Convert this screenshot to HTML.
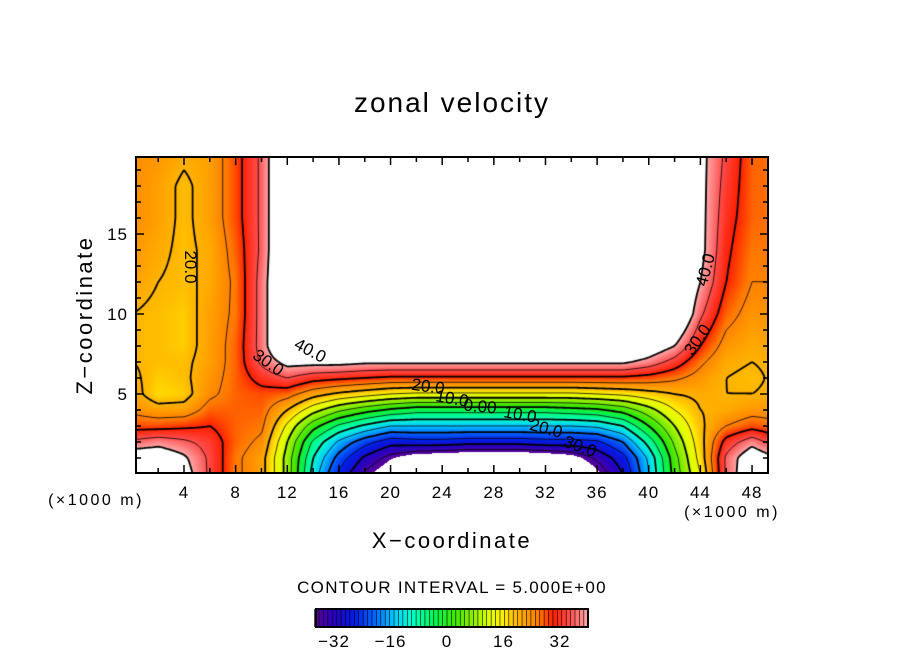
<!DOCTYPE html>
<html><head><meta charset="utf-8">
<style>
html,body{margin:0;padding:0;background:#fff;}
#wrap{position:relative;width:904px;height:654px;overflow:hidden;font-family:"Liberation Sans",sans-serif;}
canvas{position:absolute;left:136px;top:157px;}
svg{position:absolute;left:0;top:0;}
</style></head>
<body>
<div id="wrap">
<canvas id="cv" width="632" height="316"></canvas>
<svg id="sv" width="904" height="654"></svg>
</div>
<script>
// x positions (×1000 m) of grid columns
const gridX = [0,2,4,6,8,10,12,14,16,18,20,22,24,26,28,30,32,34,36,38,40,42,44,46,48,50];
// z positions (×1000 m) of grid rows
const gridZ = [0,1,2,3,4,5,6,7,8,10,12,14,16,18,20];
// column profiles (value at each gridZ)
const colU = [
 [46,45,36,28,24,22,21,20,20,20,22,23,24,24,24],
 [46,45,38,28,22,17,18,19,19,19,20,21,22,22,23],
 [43,41,36,29,22,18,19,19,18,18,19,19,19,19,21],
 [34,34,33,30,27,24,23,22,22,22,21,21,22,22,22],
 [26,26,27,27,27,27,27,27,27,26,26,27,28,28,28],
 [22,22,24,26,27,28,32,36,37,37,37,36,36,36,36],
 [8,8,10,14,20,27,35,42,50,50,50,50,50,50,50],
 [-12,-10,-6,2,12,22,32,42,50,50,50,50,50,50,50],
 [-26,-22,-16,-6,6,19,31,42,50,50,50,50,50,50,50],
 [-36,-31,-23,-11,2,17,30,41,50,50,50,50,50,50,50],
 [-42,-37,-28,-15,-1,15,29,41,50,50,50,50,50,50,50],
 [-48,-41,-27,-15,-3,14,29,41,50,50,50,50,50,50,50],
 [-48,-42,-27,-15,-3,14,29,41,50,50,50,50,50,50,50],
 [-48,-43,-28,-15,-3,14,29,41,50,50,50,50,50,50,50],
 [-48,-43,-28,-15,-3,14,29,41,50,50,50,50,50,50,50],
 [-48,-43,-28,-15,-3,14,29,41,50,50,50,50,50,50,50],
 [-48,-42,-27,-15,-3,14,29,41,50,50,50,50,50,50,50],
 [-46,-40,-27,-15,-2,14,29,41,50,50,50,50,50,50,50],
 [-39,-34,-26,-14,-1,15,29,41,50,50,50,50,50,50,50],
 [-30,-27,-20,-10,2,16,29,41,50,50,50,50,50,50,50],
 [-15,-14,-8,0,8,18,28,38,45,50,50,50,50,50,50],
 [2,3,6,10,15,20,26,33,40,50,50,50,50,50,50],
 [15,17,18,19,20,21,23,26,30,36,40,42,42,42,42],
 [36,36,32,25,21,20,20,21,23,27,30,31,32,33,34],
 [46,45,38,28,23,20,19,20,21,23,25,26,27,27,27],
 [42,40,32,26,23,21,21,21,22,24,25,26,26,26,26]
];
const xTicks = [4,8,12,16,20,24,28,32,36,40,44,48];
const zTicks = [5,10,15];
const cbTicks = [-32,-16,0,16,32];
const contourLevels = [-35,-30,-25,-20,-15,-10,-5,0,5,10,15,20,25,30,35,40];
const fillMin = -37.5, fillMax = 40;

const PL=136, PT=157, PW=632, PH=316;
const xPx = x => 184 + (x-4)*12.91;
const zPx = z => 474 - z*16;
const pxX = p => 4 + (p-184)/12.91;
const pxZ = p => (474-p)/16;

function field(x,z){
  x=Math.max(gridX[0],Math.min(gridX[gridX.length-1],x));
  z=Math.max(gridZ[0],Math.min(gridZ[gridZ.length-1],z));
  let i=0; while(i<gridX.length-2 && x>gridX[i+1]) i++;
  let j=0; while(j<gridZ.length-2 && z>gridZ[j+1]) j++;
  const tx=(x-gridX[i])/(gridX[i+1]-gridX[i]);
  const tz=(z-gridZ[j])/(gridZ[j+1]-gridZ[j]);
  const a=colU[i][j],b=colU[i+1][j],c=colU[i][j+1],d=colU[i+1][j+1];
  return a*(1-tx)*(1-tz)+b*tx*(1-tz)+c*(1-tx)*tz+d*tx*tz;
}
const stops=[[-37.5,[90,0,150]],[-32,[40,0,190]],[-26,[0,30,230]],[-20,[0,110,255]],[-15,[0,200,255]],[-10,[0,255,200]],[-4,[0,245,90]],[2,[60,230,0]],[8,[150,240,0]],[12,[225,255,0]],[16,[255,235,0]],[19,[255,190,0]],[22,[255,160,0]],[26,[255,120,0]],[30,[255,30,0]],[35,[255,80,80]],[40,[255,170,170]]];
function color(v){
  if(v<fillMin||v>fillMax) return [255,255,255];
  for(let k=0;k<stops.length-1;k++){
    if(v<=stops[k+1][0]){const t=(v-stops[k][0])/(stops[k+1][0]-stops[k][0]);
      return stops[k][1].map((c,q)=>Math.round(c+(stops[k+1][1][q]-c)*t));}
  }
  return stops[stops.length-1][1];
}
// fill
const cv=document.getElementById('cv'),ctx=cv.getContext('2d');
const img=ctx.createImageData(PW,PH);
for(let py=0;py<PH;py++)for(let px=0;px<PW;px++){
  const v=field(pxX(px+PL+0.5),pxZ(py+PT+0.5));const c=color(v);const o=(py*PW+px)*4;
  img.data[o]=c[0];img.data[o+1]=c[1];img.data[o+2]=c[2];img.data[o+3]=255;}
ctx.putImageData(img,0,0);
// contours (marching squares)
const S=2,NX=Math.ceil(PW/S)+1,NY=Math.ceil(PH/S)+1;
const F=[];for(let j=0;j<NY;j++){F.push([]);for(let i=0;i<NX;i++)F[j].push(field(pxX(PL+i*S),pxZ(PT+j*S)));}
ctx.strokeStyle='#000';
contourLevels.forEach(L=>{
  ctx.lineWidth=(L%10===0)?1.8:0.8;
  ctx.setLineDash(L<0?[4,3]:[]);
  ctx.beginPath();
  for(let j=0;j<NY-1;j++){for(let i=0;i<NX-1;i++){
    const v=[F[j][i],F[j][i+1],F[j+1][i+1],F[j+1][i]];
    const P=[[i,j],[i+1,j],[i+1,j+1],[i,j+1]];
    const pts=[];
    for(let e=0;e<4;e++){const a=v[e],b=v[(e+1)%4];
      if((a<L)!==(b<L)){const t=(L-a)/(b-a);const p=P[e],q=P[(e+1)%4];
        pts.push([(p[0]+(q[0]-p[0])*t)*S,(p[1]+(q[1]-p[1])*t)*S]);}}
    for(let k=0;k+1<pts.length;k+=2){ctx.moveTo(pts[k][0],pts[k][1]);ctx.lineTo(pts[k+1][0],pts[k+1][1]);}
  }}
  ctx.stroke();
});
ctx.setLineDash([]);
// SVG frame
const sv=document.getElementById('sv');const NS='http://www.w3.org/2000/svg';
function mk(t,a,p){const e=document.createElementNS(NS,t);for(const k in a)e.setAttribute(k,a[k]);(p||sv).appendChild(e);return e;}
function txt(s,x,y,a){const e=mk('text',Object.assign({x:x,y:y,'font-family':'Liberation Sans, sans-serif','font-size':16,'text-anchor':'middle',fill:'#000'},a||{}));e.textContent=s;return e;}
const frame=mk('rect',{x:PL,y:PT,width:PW,height:PH,fill:'none',stroke:'#000','stroke-width':2});


for(let x=2;x<=48;x+=2){const p=xPx(x),len=(x%4===0)?8:5;
  const t1=mk('line',{x1:p,y1:PT+PH,x2:p,y2:PT+PH-len,stroke:'#000','stroke-width':1.5});
  
  
  const t2=mk('line',{x1:p,y1:PT,x2:p,y2:PT+len,stroke:'#000','stroke-width':1.5});
  
  }
for(let z=1;z<=19;z++){const p=zPx(z),len=(z%5===0)?8:5;
  const t1=mk('line',{x1:PL,y1:p,x2:PL+len,y2:p,stroke:'#000','stroke-width':1.5});
  
  
  const t2=mk('line',{x1:PL+PW,y1:p,x2:PL+PW-len,y2:p,stroke:'#000','stroke-width':1.5});
  
  }
xTicks.forEach(x=>{const e=txt(String(x),xPx(x),498,{'font-size':17,'letter-spacing':1});
  
  });
zTicks.forEach(z=>{const e=txt(String(z),128,zPx(z)+6,{'text-anchor':'end','font-size':17,'letter-spacing':1});
  
  });
let e;
e=txt('zonal velocity',452,112,{'font-size':28,'letter-spacing':2});


e=txt('X\u2212coordinate',452,548,{'font-size':22,'letter-spacing':2.5});


e=txt('Z\u2212coordinate',0,0,{'font-size':22,'letter-spacing':2.5,transform:'translate(92,315) rotate(-90)'});


e=txt('(\u00d71000 m)',96,505,{'font-size':16,'letter-spacing':2.5});


e=txt('(\u00d71000 m)',732,517,{'font-size':16,'letter-spacing':2.5});


e=txt('CONTOUR INTERVAL = 5.000E+00',452,593,{'font-size':17,'letter-spacing':1.3});


// contour labels
[['20.0',190,272,90],['40.0',310,356,28],['30.0',268,368,35],['20.0',428,392,8],['10.0',452,404,10],['0.00',480,412,5],['10.0',520,420,10],['20.0',546,434,15],['30.0',580,452,20],['40.0',706,275,-75],['30.0',698,345,-55]].forEach(l=>{
  const t=txt(l[0],l[1],l[2],{'font-size':17,transform:'rotate('+l[3]+' '+l[1]+' '+(l[2]-5)+')'});
  
  });
// colorbar
const cbL=316,cbR=588,cbT=609,cbB=627;
const cbX=v=>334+(v+32)*(226/64);
for(let v=fillMin;v<fillMax;v+=1.25){const c=color(v+0.6);
  const r=mk('rect',{x:cbX(v),y:cbT,width:cbX(v+1.25)-cbX(v)+0.3,height:cbB-cbT,fill:'rgb('+c.join(',')+')'});
  
  
  const ln=mk('line',{x1:cbX(v),y1:cbT,x2:cbX(v),y2:cbB,stroke:'#000','stroke-width':0.6});
  
  }
e=mk('rect',{x:cbL,y:cbT,width:cbR-cbL,height:cbB-cbT,fill:'none',stroke:'#000','stroke-width':2});


cbTicks.forEach(v=>{const t=txt(v<0?'\u2212'+(-v):String(v),cbX(v),647,{'font-size':17,'letter-spacing':1});
  
  });
</script>
</body></html>
